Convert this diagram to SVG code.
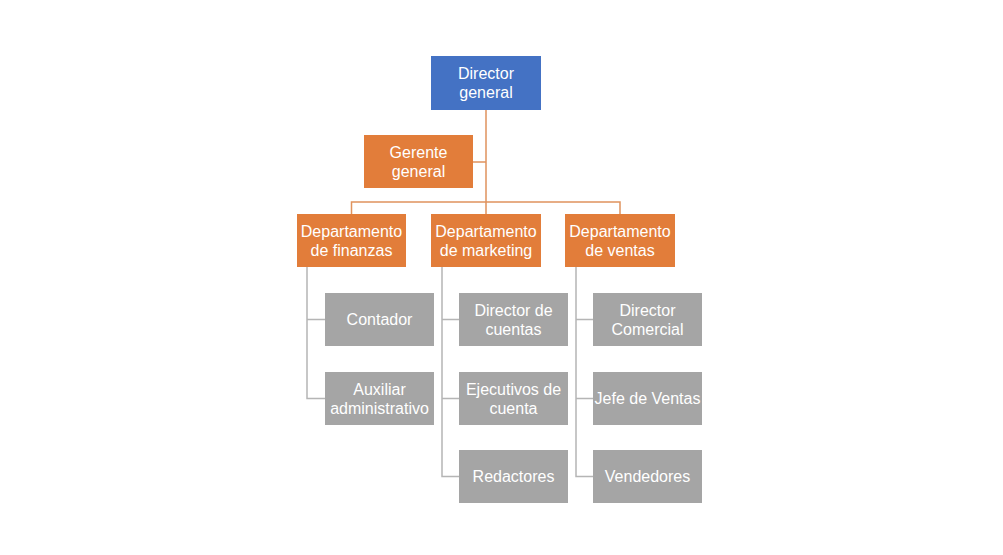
<svg xmlns="http://www.w3.org/2000/svg" width="1003" height="555" viewBox="0 0 1003 555">
<style>
.b{fill:#4472C4}
.o{fill:#E27D3A}
.g{fill:#A5A5A5}
text{font-family:"Liberation Sans",Arial,sans-serif;font-size:16px;fill:#fff;text-anchor:middle}
.lo{stroke:#E0935E;stroke-width:1.5;fill:none}
.lg{stroke:#B5B5B5;stroke-width:1.5;fill:none}
</style>
<rect width="1003" height="555" fill="#fff"/>
<g id="connectors">
<path class="lo" d="M486 110V214M473 162H486M351.5 214V202H620V214"/>
<path class="lg" d="M307 267V398.5H325M307 319.5H325"/>
<path class="lg" d="M442 267V476.5H459M442 319.5H459M442 398.5H459"/>
<path class="lg" d="M576 267V476.5H593M576 319.5H593M576 398.5H593"/>
</g>
<g id="director-general"><rect class="b" x="431" y="56" width="110" height="54"/><text x="486" y="79">Director</text><text x="486" y="98">general</text></g>
<g id="gerente-general"><rect class="o" x="364" y="135" width="109" height="53"/><text x="418.5" y="158">Gerente</text><text x="418.5" y="177">general</text></g>
<g id="dep-finanzas"><rect class="o" x="297" y="214" width="109" height="53"/><text x="351.5" y="237">Departamento</text><text x="351.5" y="256">de finanzas</text></g>
<g id="dep-marketing"><rect class="o" x="431" y="214" width="110" height="53"/><text x="486" y="237">Departamento</text><text x="486" y="256">de marketing</text></g>
<g id="dep-ventas"><rect class="o" x="565" y="214" width="110" height="53"/><text x="620" y="237">Departamento</text><text x="620" y="256">de ventas</text></g>
<g id="contador"><rect class="g" x="325" y="293" width="109" height="53"/><text x="379.5" y="325">Contador</text></g>
<g id="auxiliar"><rect class="g" x="325" y="372" width="109" height="53"/><text x="379.5" y="395">Auxiliar</text><text x="379.5" y="414">administrativo</text></g>
<g id="director-cuentas"><rect class="g" x="459" y="293" width="109" height="53"/><text x="513.5" y="316">Director de</text><text x="513.5" y="335">cuentas</text></g>
<g id="ejecutivos"><rect class="g" x="459" y="372" width="109" height="53"/><text x="513.5" y="395">Ejecutivos de</text><text x="513.5" y="414">cuenta</text></g>
<g id="redactores"><rect class="g" x="459" y="450" width="109" height="53"/><text x="513.5" y="482">Redactores</text></g>
<g id="director-comercial"><rect class="g" x="593" y="293" width="109" height="53"/><text x="647.5" y="316">Director</text><text x="647.5" y="335">Comercial</text></g>
<g id="jefe-ventas"><rect class="g" x="593" y="372" width="109" height="53"/><text x="647.5" y="404">Jefe de Ventas</text></g>
<g id="vendedores"><rect class="g" x="593" y="450" width="109" height="53"/><text x="647.5" y="482">Vendedores</text></g>
</svg>
